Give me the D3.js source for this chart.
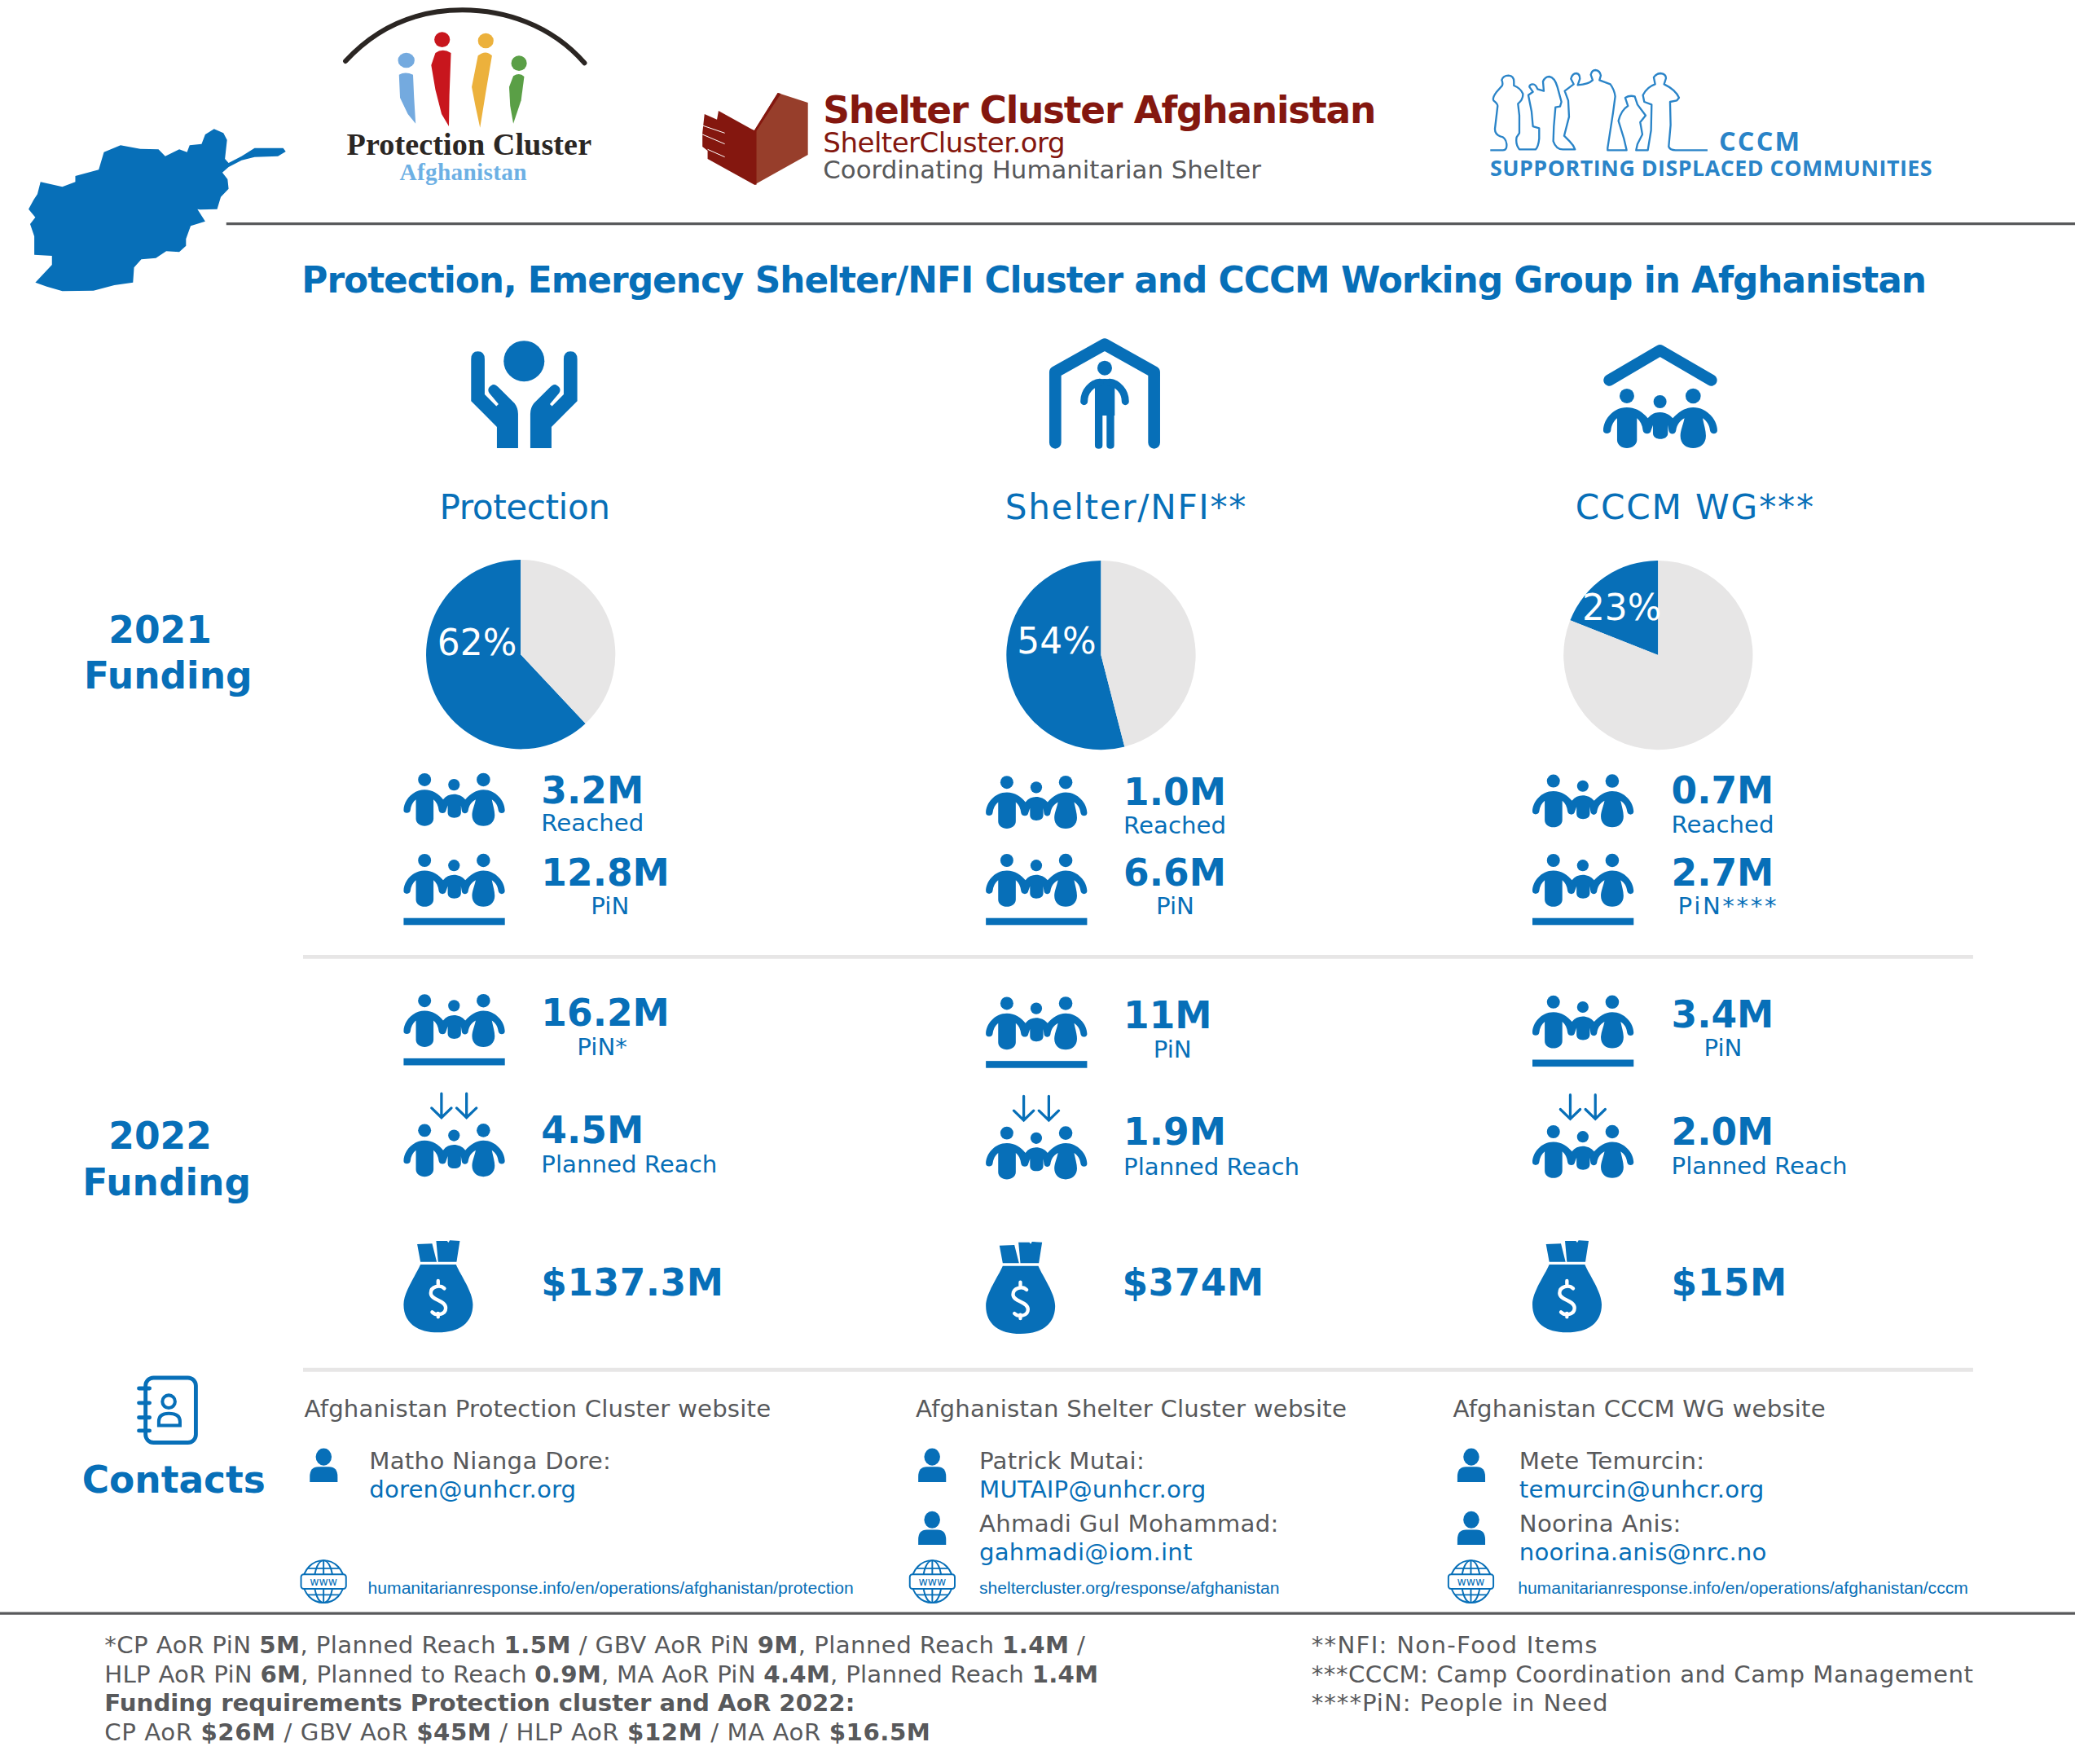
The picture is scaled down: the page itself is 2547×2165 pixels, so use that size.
<!DOCTYPE html>
<html><head><meta charset="utf-8">
<script src="https://cdn.jsdelivr.net/npm/d3@7/dist/d3.min.js"></script>
<style>html,body{margin:0;padding:0;background:#fff}svg{display:block}text{font-family:"DejaVu Sans",sans-serif}</style>
</head><body><svg id="c"></svg>
<script>
// ---------- data ----------
const clusters=["Protection","Shelter/NFI**","CCCM WG***"];
const fundedLabels=["62%","54%","23%"];
const fundedShare=[62,54,19];   // wedge as drawn in the picture (the third wedge is smaller than its label)
const reached2021=["3.2M","1.0M","0.7M"];
const pin2021=["12.8M","6.6M","2.7M"];
const pin2021Labels=["PiN","PiN","PiN****"];
const pin2022=["16.2M","11M","3.4M"];
const pin2022Labels=["PiN*","PiN","PiN"];
const planned2022=["4.5M","1.9M","2.0M"];
const funding2022=["$137.3M","$374M","$15M"];
const websites=["Afghanistan Protection Cluster website","Afghanistan Shelter Cluster website","Afghanistan CCCM WG website"];
const contacts=[
 [["Matho Nianga Dore:","doren@unhcr.org"]],
 [["Patrick Mutai:","MUTAIP@unhcr.org"],["Ahmadi Gul Mohammad:","gahmadi@iom.int"]],
 [["Mete Temurcin:","temurcin@unhcr.org"],["Noorina Anis:","noorina.anis@nrc.no"]]];
const links=["humanitarianresponse.info/en/operations/afghanistan/protection","sheltercluster.org/response/afghanistan","humanitarianresponse.info/en/operations/afghanistan/cccm"];
const footLeft=[
 [["*CP AoR PiN ",0],["5M",1],[", Planned Reach ",0],["1.5M",1],[" / GBV AoR PiN ",0],["9M",1],[", Planned Reach ",0],["1.4M",1],[" /",0]],
 [["HLP AoR PiN ",0],["6M",1],[", Planned to Reach ",0],["0.9M",1],[", MA AoR PiN ",0],["4.4M",1],[", Planned Reach ",0],["1.4M",1]],
 [["Funding requirements Protection cluster and AoR 2022:",1]],
 [["CP AoR ",0],["$26M",1],[" / GBV AoR ",0],["$45M",1],[" / HLP AoR ",0],["$12M",1],[" / MA AoR ",0],["$16.5M",1]]];
const footRight=["**NFI: Non-Food Items","***CCCM: Camp Coordination and Camp Management","****PiN: People in Need"];

// ---------- layout ----------
const W=1568,H=2165*1568/2547;
const BLUE="#076fb8",GREY="#58595b",PALE="#e7e6e6",RED="#84170f",LOGOBLUE="#2a84c8";
const svg=d3.select("#c").attr("width",2547).attr("height",2165).attr("viewBox",`0 0 ${W} ${H}`);
function fit(t,w){
  const s=t.text(),l=t.node().getComputedTextLength();
  t.attr("letter-spacing",(w-l)/(s.length-1));
  return t;
}
function T(s,x,y,size,fill,o={}){
  const t=svg.append("text").attr("x",x).attr("y",y).attr("font-size",size).attr("fill",fill).text(s);
  if(o.bold)t.attr("font-weight","bold");
  if(o.anchor)t.attr("text-anchor",o.anchor);
  if(o.family)t.style("font-family",o.family);
  if(o.ls)t.attr("letter-spacing",o.ls);
  if(o.w)fit(t,o.w);
  return t;
}
function L(x1,x2,y,c,w){svg.append("line").attr("x1",x1).attr("x2",x2).attr("y1",y).attr("y2",y).attr("stroke",c).attr("stroke-width",w);}

// ---------- icons (each traced in a local frame) ----------
const k=1/4.873;          // traced crop → page
const kFam=76.5/420;      // family frame (x 204–624) → page
function family(g){
  g.selectAll("circle").data([[291,258,27],[413,279,24],[535,258,28]]).join("circle").attr("cx",d=>d[0]).attr("cy",d=>d[1]).attr("r",d=>d[2]).attr("fill",BLUE);
  g.append("path").attr("fill",BLUE).attr("d","M204,385 C204,345 240,300 291,300 C325,300 350,318 368,340 C380,325 395,318 413,318 C430,318 447,325 460,340 C480,318 505,300 535,300 C585,300 624,345 624,385 C624,400 600,402 597,385 C595,365 585,350 570,340 C575,365 582,385 582,405 C582,435 560,450 535,450 C510,450 488,435 488,405 C488,385 498,365 503,340 C485,350 475,365 472,385 C470,402 447,402 445,385 L442,365 L442,395 C442,408 430,416 414,416 C398,416 387,408 387,395 L387,365 L380,385 C378,402 352,400 350,385 C348,365 340,350 328,340 L328,420 C328,438 310,450 291,450 C272,450 255,438 255,420 L255,340 C243,350 234,365 232,385 C230,400 204,400 204,385Z");
}
function bag(g){
  g.append("path").attr("fill",BLUE).attr("d","M197,1105 L185,1040 L240,1038 L257,1105Z M262,1105 L255,1028 L295,1028 L300,1034 L305,1026 L342,1028 L330,1105Z M197,1115 L328,1115 C345,1155 390,1215 390,1262 C390,1330 340,1365 262,1365 C185,1365 135,1330 135,1262 C135,1215 180,1155 197,1115Z");
  g.append("path").attr("fill","none").attr("stroke","#fff").attr("stroke-width",13).attr("stroke-linecap","round")
   .attr("d","M285,1203 C270,1188 235,1195 235,1220 C235,1248 290,1245 290,1275 C290,1300 255,1305 240,1290 M262,1175 V1190 M262,1295 V1308");
}
function icon(x,y,ox,oy,fn,s=k){const g=svg.append("g").attr("transform",`translate(${x},${y}) scale(${s}) translate(${-ox},${-oy})`);fn(g);return g;}
const fam=(x,y)=>icon(x,y,204,230,family,kFam);
const ground=g=>g.append("rect").attr("x",204).attr("y",497).attr("width",420).attr("height",29).attr("fill",BLUE);

// ---------- per column positions ----------
const iconX=[305,745,1158],numX=[409,849,1263];
const rowY={reachedIcon:[584,586,585],pinIcon:[645,645,645],pin22Icon:[751,753,752],planIcon:[849,851,850],bagIcon:[937,938,937],
 reached:[607,608,607],reachedL:[628,630,629],pin:[669,669,669],pinL:[691,691,691],pin22:[775,777,776],pin22L:[797,799,798],plan:[864,865,865],planL:[886,888,887],fund:[979,979,979]};
const pinLX=[461,888,1306],pin22LX=[455,886,1302];
const pieC=[[393.5,494.5],[832,495],[1253,495]],pieLbl=[[360.5,495],[798.5,494],[1225.5,468.5]],headX=[396.5,851,1281],headW=[129,182,180];

const pie=d3.pie().sort(null).startAngle(0).endAngle(-2*Math.PI);
const arc=d3.arc().innerRadius(0).outerRadius(71.5);
const SNUM=28,SLAB=18;

clusters.forEach((c,i)=>{
  T(c,headX[i],392,26,BLUE,{anchor:"middle",w:headW[i]});
  const g=svg.append("g").attr("transform",`translate(${pieC[i]})`);
  g.selectAll("path").data(pie([fundedShare[i],100-fundedShare[i]])).join("path").attr("d",arc).attr("fill",(d,j)=>j?PALE:BLUE);
  T(fundedLabels[i],pieLbl[i][0],pieLbl[i][1],27,"#fff",{anchor:"middle"});

  fam(iconX[i],rowY.reachedIcon[i]);
  T(reached2021[i],numX[i],rowY.reached[i],SNUM,BLUE,{bold:1});
  T("Reached",numX[i],rowY.reachedL[i],SLAB,BLUE);

  ground(fam(iconX[i],rowY.pinIcon[i]));
  T(pin2021[i],numX[i],rowY.pin[i],SNUM,BLUE,{bold:1});
  T(pin2021Labels[i],pinLX[i],rowY.pinL[i],SLAB,BLUE,{anchor:"middle",ls:i==2?1.6:0});

  ground(fam(iconX[i],rowY.pin22Icon[i]));
  T(pin2022[i],numX[i],rowY.pin22[i],SNUM,BLUE,{bold:1});
  T(pin2022Labels[i],pin22LX[i],rowY.pin22L[i],SLAB,BLUE,{anchor:"middle"});

  fam(iconX[i],rowY.planIcon[i]).append("path").attr("fill","none").attr("stroke",BLUE).attr("stroke-width",11).attr("stroke-linecap","round")
    .attr("d","M361,105 V203 M320,165 L361,205 L402,165 M465,105 V203 M424,165 L465,205 L506,165");
  T(planned2022[i],numX[i],rowY.plan[i],SNUM,BLUE,{bold:1});
  T("Planned Reach",numX[i],rowY.planL[i],SLAB,BLUE);

  icon(iconX[i],rowY.bagIcon[i],135,1025,bag);
  T(funding2022[i],numX[i]-(i==1?1:0),rowY.fund[i],SNUM,BLUE,{bold:1,ls:0.3});
});

// hands
svg.append("g").attr("transform","translate(277,246.2) scale(0.2052,0.2959)").call(g=>{
  g.append("ellipse").attr("cx",580).attr("cy",90).attr("rx",75).attr("ry",52).attr("fill",BLUE);
  const d="M385,85 Q385,65 410,65 Q435,65 435,85 L435,175 L478,205 L486,200 L452,172 Q440,158 465,150 Q475,148 490,160 L545,198 Q558,210 558,225 L558,312 L480,312 L480,258 L385,192Z";
  g.append("path").attr("d",d).attr("fill",BLUE);
  g.append("path").attr("d",d).attr("fill",BLUE).attr("transform","translate(1161,0) scale(-1,1)");
});
// shelter icon (traced frame)
svg.append("g").attr("transform",`translate(775.67,246.24) scale(${k})`).call(g=>{
  g.append("path").attr("fill","none").attr("stroke",BLUE).attr("stroke-width",44).attr("stroke-linecap","round").attr("stroke-linejoin","round").attr("d","M106,430 V170 L288,68 L470,170 V430");
  g.append("circle").attr("cx",288).attr("cy",155).attr("r",27).attr("fill",BLUE);
  g.append("path").attr("fill",BLUE).attr("d","M252,198 Q288,192 325,198 V330 H323 V440 Q323,452 309,452 Q295,452 295,440 V330 H280 V440 Q280,452 266,452 Q252,452 252,440Z");
  g.append("path").attr("fill","none").attr("stroke",BLUE).attr("stroke-width",27).attr("stroke-linecap","round").attr("d","M212,278 C212,240 240,212 270,208 M364,278 C364,240 336,212 306,208");
});
// cccm icon (same traced frame as family)
svg.append("g").attr("transform",`translate(1169.66,246.24) scale(${k})`).call(g=>{
  g.append("path").attr("fill","none").attr("stroke",BLUE).attr("stroke-width",42).attr("stroke-linecap","round").attr("stroke-linejoin","round").attr("d","M226,200 L413,90 L602,200");
  family(g);
});

// ---------- title, section labels ----------
T("Protection, Emergency Shelter/NFI Cluster and CCCM Working Group in Afghanistan",228,221,27,BLUE,{bold:1,w:1228});
T("2021",121,486,28,BLUE,{bold:1,anchor:"middle"});
T("Funding",127,520,28,BLUE,{bold:1,anchor:"middle"});
T("2022",121,868,28,BLUE,{bold:1,anchor:"middle"});
T("Funding",126,903,28,BLUE,{bold:1,anchor:"middle"});
T("Contacts",62,1128,28,BLUE,{bold:1});
L(171,W,169,GREY,2); L(0,W,1219,GREY,2); L(229,1491,723,PALE,3); L(229,1491,1035,PALE,3);

// ---------- contacts ----------
const headConX=[230,692,1098],personX=[244.6,704.4,1111.8],nameX=[279,740,1148],linkX=[278,740,1147],globeX=[244.5,704.5,1111.5];
function person(x,y){
  svg.append("ellipse").attr("cx",x).attr("cy",y).attr("rx",6).attr("ry",6.5).attr("fill",BLUE);
  svg.append("path").attr("fill",BLUE).attr("d",`M${x-10.5},${y+19} V${y+15} Q${x-10.5},${y+7.5} ${x-4},${y+7.5} H${x+4} Q${x+10.5},${y+7.5} ${x+10.5},${y+15} V${y+19}Z`);
}
websites.forEach((w,i)=>{
  T(w,headConX[i],1070.5,18,GREY,{ls:0.1});
  contacts[i].forEach((c,j)=>{
    person(personX[i],1100.8+47.5*j);
    T(c[0],nameX[i],1110+47.5*j,18,GREY,{ls:0.17});
    T(c[1],nameX[i],1131.5+47.5*j,18,BLUE,{ls:0.1});
  });
  T(links[i],linkX[i],1204,13,BLUE,{family:'"Liberation Sans",sans-serif'});
  const g=svg.append("g").attr("transform",`translate(${globeX[i]},1195)`).attr("fill","none").attr("stroke",BLUE).attr("stroke-width",1.2);
  g.append("ellipse").attr("rx",15.5).attr("ry",16);
  g.append("ellipse").attr("rx",7).attr("ry",16);
  g.append("path").attr("d","M0,-16 V16 M-12,-10 H12 M-12,10 H12");
  g.append("rect").attr("x",-17).attr("y",-5.5).attr("width",34).attr("height",11).attr("rx",2).attr("fill","#fff");
  g.append("text").attr("y",2.8).attr("text-anchor","middle").attr("font-size",8.5).attr("fill",BLUE).attr("stroke","none").text("www");
});

// ---------- footnotes ----------
const footLeftW=[741,751,567,624],footRightW=[216,500,224];
footLeft.forEach((line,i)=>{
  const t=svg.append("text").attr("x",79).attr("y",1249+22*i).attr("font-size",18).attr("fill",GREY);
  line.forEach(s=>{const p=t.append("tspan").text(s[0]);if(s[1])p.attr("font-weight","bold");});
  fit(t,footLeftW[i]);
});
footRight.forEach((s,i)=>T(s,991,1249+22*i,18,GREY,{w:footRightW[i]}));

// ---------- logos ----------
svg.append("path").attr("fill",BLUE).attr("transform","scale(0.3926,0.2052)")
 .attr("d","M68,1040 L100,975 L100,942 L66,938 L66,870 L58,825 L68,800 L55,770 L65,735 L72,715 L78,670 L120,688 L145,670 L145,648 L190,625 L200,560 L232,535 L270,548 L305,550 L318,575 L345,550 L360,560 L365,535 L388,530 L395,495 L412,475 L430,490 L437,515 L433,585 L440,600 L465,575 L490,545 L510,545 L545,545 L550,558 L535,575 L490,578 L465,590 L440,615 L428,635 L438,660 L440,695 L425,725 L418,770 L385,772 L380,770 L395,815 L367,832 L358,880 L358,905 L345,928 L320,925 L300,950 L272,955 L258,985 L256,1040 L220,1050 L180,1070 L120,1072 L90,1055Z");
svg.append("g").attr("transform","scale(0.3926,0.2052)").call(g=>{
  g.append("path").attr("fill","none").attr("stroke","#2b2623").attr("stroke-linecap","round").attr("vector-effect","non-scaling-stroke").style("stroke-width","6")
   .attr("d","M665,225 C730,90 810,37 890,37 C970,37 1060,90 1125,232");
  [[782,222,16,28,"#74aadf","M768,275 Q780,262 795,275 L797,360 L800,455 L785,420 L770,360Z"],
   [851,146,15,28,"#c8161d","M838,195 Q852,175 868,195 L865,350 L864,465 L850,420 L838,330 L830,240Z"],
   [935,150,15,28,"#ecb13c","M920,205 Q935,182 947,205 L935,340 L924,470 L915,390 L908,320Z"],
   [999,233,15,28,"#5a9f46","M988,280 Q1000,265 1009,282 L1003,370 L988,455 L982,390 L980,320Z"]].forEach(p=>{
    g.append("ellipse").attr("cx",p[0]).attr("cy",p[1]).attr("rx",p[2]).attr("ry",p[3]).attr("fill",p[4]);
    g.append("path").attr("d",p[5]).attr("fill",p[4]);
  });
  g.append("path").attr("fill","#973e2b").attr("d","M1497,342 L1555,378 L1555,570 L1452,680 L1452,480Z");
  g.append("path").attr("fill",RED).attr("d","M1452,480 L1497,342 L1503,345 L1456,482 L1456,680 L1452,680 L1362,585 L1362,555 L1352,540 L1352,490 L1356,420 L1380,440 L1383,408 L1446,475Z");
  g.append("path").attr("fill","none").attr("stroke","#fff").attr("stroke-width",1).attr("vector-effect","non-scaling-stroke").attr("d","M1352,462 L1395,490 M1352,495 L1395,530 M1362,550 L1395,578");
});
T("Protection Cluster",262,117,23.5,"#2b2623",{bold:1,family:'"Liberation Serif",serif',w:185});
T("Afghanistan",302,136,18,"#6db0e4",{bold:1,family:'"Liberation Serif",serif',w:96});
T("Shelter Cluster Afghanistan",622,93,28,RED,{bold:1,w:418});
T("ShelterCluster.org",622,115,21,RED,{w:183});
T("Coordinating Humanitarian Shelter",622,135,19,GREY,{w:331});
// CCCM logo outline (traced crop at 1800,70)
svg.append("path").attr("transform",`translate(1108.1,43.1) scale(${k})`).attr("fill","none").attr("stroke",LOGOBLUE).attr("stroke-width",7).attr("stroke-linejoin","round")
 .attr("d","M88,343 H135 Q150,343 148,320 Q145,295 125,292 Q105,285 105,265 L115,180 Q115,172 100,160 Q95,150 110,130 L132,105 Q135,95 130,85 Q135,68 155,68 Q175,70 175,90 L175,105 Q200,115 208,135 Q210,155 190,172 L195,215 L195,280 L185,295 Q180,320 195,340 H255 Q265,330 268,300 V262 L245,255 L240,200 L228,140 L245,128 L232,110 Q232,100 245,100 Q255,100 262,118 L285,125 L282,90 Q290,72 305,72 Q325,75 335,110 L350,165 L345,182 L328,185 L322,255 L320,310 Q330,340 355,340 H400 Q395,325 380,310 L360,290 L378,220 L375,160 L362,125 L395,100 L385,80 Q390,60 405,60 Q418,62 418,80 L410,103 Q450,100 465,85 L458,65 Q462,48 475,48 Q492,50 495,68 L490,85 L530,100 Q545,120 548,145 L540,205 L520,335 V343 H590 L580,300 L560,235 Q570,195 595,180 L585,150 Q600,140 620,145 L630,175 L660,215 L640,240 L648,285 L630,320 L625,343 H668 L680,270 L682,175 L655,165 L650,140 Q665,110 695,100 L690,75 Q700,60 715,60 Q735,62 735,78 L728,100 Q770,120 783,150 L775,160 L750,165 L752,250 L745,330 Q750,343 770,343 H888");
T("CCCM",1299,114,20,LOGOBLUE,{family:'"Open Sans",sans-serif',bold:1,w:61});
T("SUPPORTING DISPLACED COMMUNITIES",1126,133,16.5,LOGOBLUE,{bold:1,family:'"Open Sans",sans-serif',w:334});
// contacts book
svg.append("rect").attr("x",110).attr("y",1041).attr("width",38).attr("height",49).attr("rx",6).attr("fill","none").attr("stroke",BLUE).attr("stroke-width",3);
svg.append("path").attr("stroke",BLUE).attr("stroke-width",3).attr("stroke-linecap","round").attr("fill","none").attr("d","M105,1049 H113 M105,1060 H113 M105,1071 H113 M105,1081 H113");
svg.append("circle").attr("cx",127.5).attr("cy",1059).attr("r",4.8).attr("fill","none").attr("stroke",BLUE).attr("stroke-width",2.5);
svg.append("path").attr("fill","none").attr("stroke",BLUE).attr("stroke-width",2.5).attr("d","M120,1077 V1074 Q120,1068 127.5,1068 Q136,1068 136,1074 V1077Z");
</script></body></html>
